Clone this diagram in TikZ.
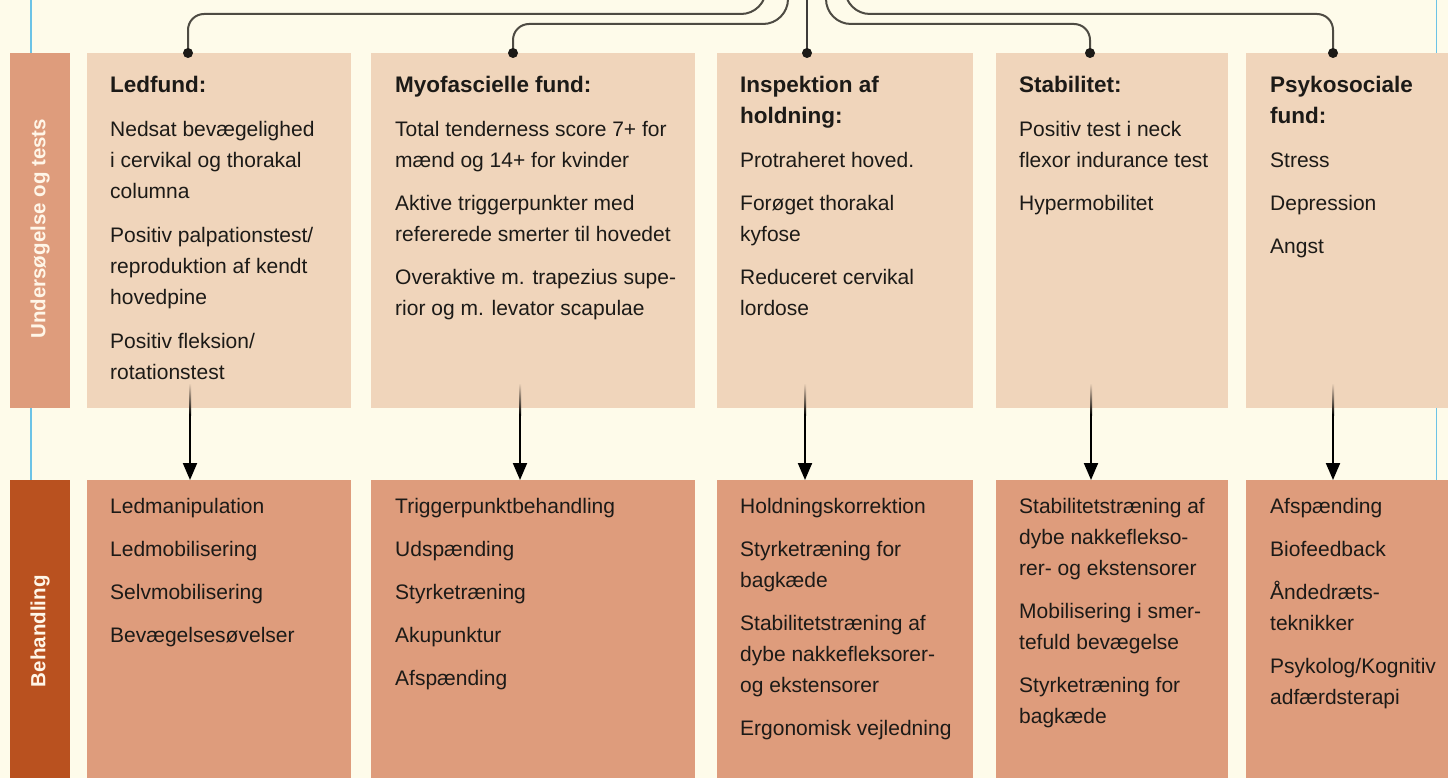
\documentclass[tikz,border=0pt]{standalone}
\usepackage{fontspec}
\setmainfont{Liberation Sans}
\usetikzlibrary{arrows.meta}
\definecolor{bg}{HTML}{FEFBEA}
\definecolor{topbox}{HTML}{F0D5BB}
\definecolor{botbox}{HTML}{DE9C7C}
\definecolor{darkbar}{HTML}{B9511F}
\definecolor{blueline}{HTML}{6CC3E6}
\definecolor{conn}{HTML}{4E4B43}
\definecolor{ink}{HTML}{1C1A17}
\definecolor{labeltext}{HTML}{FFF6E8}
\tikzset{
  panel/.style={anchor=north west, inner sep=0pt, draw=none, fill=#1},
  txt/.style={anchor=north west, inner sep=0pt, align=left, text=ink,
    font=\fontsize{21}{31}\selectfont},
  sidelabel/.style={rotate=90, inner sep=0pt, text=labeltext,
    font=\bfseries\fontsize{20.5}{24}\selectfont},
  connline/.style={draw=conn, line width=2pt},
  dotmark/.style={fill=ink},
  arrowline/.style={draw=black, line width=2pt, -{Triangle[length=17pt,width=14pt]}},
}
\newcommand{\fl}{\rule{0pt}{16pt}}
\newcommand{\ttl}[1]{{\bfseries\fontsize{22.5}{31}\selectfont #1}}
\begin{document}
\begin{tikzpicture}[x=1pt,y=-1pt]
\path[use as bounding box] (0,0) rectangle (1448,778);
\fill[bg] (0,0) rectangle (1448,778);
\clip (0,0) rectangle (1448,778);

% blue guide lines
\draw[blueline, line width=1.5pt] (31,0) -- (31,778);
\draw[blueline, line width=1.5pt] (1436.5,0) -- (1436.5,778);

% side bars
\node[panel=botbox, minimum width=60pt, minimum height=355pt] (bar1) at (10,53) {};
\node[panel=darkbar, minimum width=60pt, minimum height=298pt] (bar2) at (10,480) {};
\node[sidelabel] (lab1) at ([yshift=2pt]bar1.center) {Undersøgelse og tests};
\node[sidelabel] (lab2) at ([yshift=-2pt]bar2.center) {Behandling};

% top boxes
\node[panel=topbox, minimum width=264pt, minimum height=355pt] (t1) at (87,53) {};
\node[panel=topbox, minimum width=324pt, minimum height=355pt] (t2) at (371,53) {};
\node[panel=topbox, minimum width=256pt, minimum height=355pt] (t3) at (717,53) {};
\node[panel=topbox, minimum width=232pt, minimum height=355pt] (t4) at (996,53) {};
\node[panel=topbox, minimum width=210pt, minimum height=355pt] (t5) at (1246,53) {};
% bottom boxes
\node[panel=botbox, minimum width=264pt, minimum height=298pt] (b1) at (87,480) {};
\node[panel=botbox, minimum width=324pt, minimum height=298pt] (b2) at (371,480) {};
\node[panel=botbox, minimum width=256pt, minimum height=298pt] (b3) at (717,480) {};
\node[panel=botbox, minimum width=232pt, minimum height=298pt] (b4) at (996,480) {};
\node[panel=botbox, minimum width=210pt, minimum height=298pt] (b5) at (1246,480) {};

% top texts
\node[txt] (tt1) at (110,76) {\fl\ttl{Ledfund:}\\[13pt]
Nedsat bevægelighed\\i cervikal og thorakal\\columna\\[13pt]
Positiv palpationstest/\\reproduktion af kendt\\hovedpine\\[13pt]
Positiv fleksion/\\rotationstest};
\node[txt] (tt2) at (395,76) {\fl\ttl{Myofascielle fund:}\\[13pt]
Total tenderness score 7+ for\\mænd og 14+ for kvinder\\[12pt]
Aktive triggerpunkter med\\refererede smerter til hovedet\\[12pt]
Overaktive m. trapezius supe-\\rior og m. levator scapulae};
\node[txt] (tt3) at (740,76) {\fl\ttl{Inspektion af}\\\ttl{holdning:}\\[13pt]
Protraheret hoved.\\[12pt]
Forøget thorakal\\kyfose\\[12pt]
Reduceret cervikal\\lordose};
\node[txt] (tt4) at (1019,76) {\fl\ttl{Stabilitet:}\\[13pt]
Positiv test i neck\\flexor indurance test\\[12pt]
Hypermobilitet};
\node[txt] (tt5) at (1270,76) {\fl\ttl{Psykosociale}\\\ttl{fund:}\\[13pt]
Stress\\[12pt]
Depression\\[12pt]
Angst};

% bottom texts
\node[txt] (bt1) at (110,497) {\fl Ledmanipulation\\[12pt]
Ledmobilisering\\[12pt]
Selvmobilisering\\[12pt]
Bevægelsesøvelser};
\node[txt] (bt2) at (395,497) {\fl Triggerpunktbehandling\\[12pt]
Udspænding\\[12pt]
Styrketræning\\[12pt]
Akupunktur\\[12pt]
Afspænding};
\node[txt] (bt3) at (740,497) {\fl Holdningskorrektion\\[12pt]
Styrketræning for\\bagkæde\\[12pt]
Stabilitetstræning af\\dybe nakkefleksorer-\\og ekstensorer\\[12pt]
Ergonomisk vejledning};
\node[txt] (bt4) at (1019,497) {\fl Stabilitetstræning af\\dybe nakkefleksо-\\rer- og ekstensorer\\[12pt]
Mobilisering i smer-\\tefuld bevægelse\\[12pt]
Styrketræning for\\bagkæde};
\node[txt] (bt5) at (1270,497) {\fl Afspænding\\[12pt]
Biofeedback\\[12pt]
Åndedræts-\\teknikker\\[12pt]
Psykolog/Kognitiv\\adfærdsterapi};

% connector sources (off the top edge), midpoints and targets
\coordinate (s1) at (766,-40);
\coordinate (s2) at (788,-40);
\coordinate (s3) at (807,-40);
\coordinate (s4) at (826,-40);
\coordinate (s5) at (845,-40);
\coordinate (m1) at (450,14);
\coordinate (m2) at (650,24);
\coordinate (m4) at (950,24);
\coordinate (m5) at (1100,14);
\coordinate (d1) at (188,53);
\coordinate (d2) at (513,53);
\coordinate (d3) at (807,53);
\coordinate (d4) at (1090,53);
\coordinate (d5) at (1333,53);

\draw[connline, rounded corners=25pt] (s1) |- (m1);
\draw[connline, rounded corners=16pt] (m1) -| (d1);
\draw[connline, rounded corners=25pt] (s2) |- (m2);
\draw[connline, rounded corners=16pt] (m2) -| (d2);
\draw[connline, draw=ink!85] (s3) -- (d3);
\draw[connline, rounded corners=25pt] (s4) |- (m4);
\draw[connline, rounded corners=16pt] (m4) -| (d4);
\draw[connline, rounded corners=25pt] (s5) |- (m5);
\draw[connline, rounded corners=16pt] (m5) -| (d5);
\foreach \d in {d1,d2,d3,d4,d5} \fill[dotmark] (\d) circle (5pt);

% arrows between rows
\coordinate (a1) at (190,414);
\coordinate (a2) at (520,414);
\coordinate (a3) at (805,414);
\coordinate (a4) at (1091,414);
\coordinate (a5) at (1333,414);
\foreach \a in {a1,a2,a3,a4,a5}{
  \shade[top color=topbox, bottom color=black] ([xshift=-1pt,yshift=31pt]\a) rectangle ([xshift=1pt,yshift=-1pt]\a);
}
\draw[arrowline] (a1) -- (a1 |- b1.north);
\draw[arrowline] (a2) -- (a2 |- b2.north);
\draw[arrowline] (a3) -- (a3 |- b3.north);
\draw[arrowline] (a4) -- (a4 |- b4.north);
\draw[arrowline] (a5) -- (a5 |- b5.north);
\end{tikzpicture}
\end{document}
